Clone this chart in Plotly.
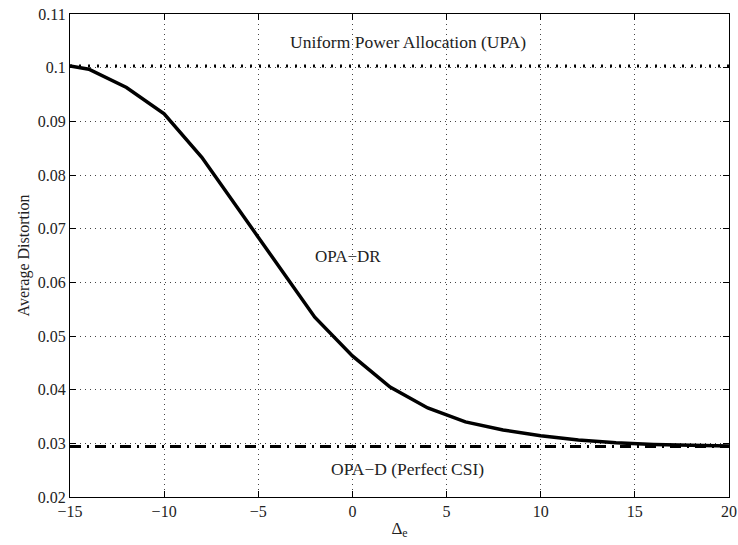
import plotly.graph_objs as go

# values
delta_e = [-15, -14, -12, -10, -8, -6, -4, -2, 0, 2, 4, 6, 8, 10, 12, 14, 16, 18, 20]
opa_dr = [0.1003, 0.0997, 0.0963, 0.0914, 0.0833, 0.0733, 0.0635, 0.0535, 0.0463,
          0.0405, 0.0366, 0.0340, 0.0325, 0.0314, 0.0306, 0.0301, 0.0298, 0.0296, 0.0295]

upa_x = [-15, 20]
upa_y = [0.1003, 0.1003]

opa_d_x = [-15, 20]
opa_d_y = [0.0294, 0.0294]

x_ticks = [-15, -10, -5, 0, 5, 10, 15, 20]
y_ticks = [0.02, 0.03, 0.04, 0.05, 0.06, 0.07, 0.08, 0.09, 0.1, 0.11]
y_tick_text = ["0.02", "0.03", "0.04", "0.05", "0.06", "0.07", "0.08", "0.09", "0.1", "0.11"]

FONT = "Liberation Serif"

fig = go.Figure()

fig.add_trace(go.Scatter(x=upa_x, y=upa_y, mode='lines', name='UPA',
                         line={"color": "black", "width": 3, "dash": "2px,7px"}))
fig.add_trace(go.Scatter(x=opa_d_x, y=opa_d_y, mode='lines', name='OPA-D',
                         line={"color": "black", "width": 3, "dash": "11px,6px,2px,6px"}))
fig.add_trace(go.Scatter(x=delta_e, y=opa_dr, mode='lines', name='OPA-DR',
                         line={"color": "black", "width": 3.5}))

# curve labels
fig.add_annotation(x=2.95, y=0.1048, text="Uniform Power Allocation (UPA)", showarrow=False,
                   font={"size": 17.5})
fig.add_annotation(x=-0.25, y=0.0648, text="OPA\u2212DR", showarrow=False,
                   font={"size": 17})
fig.add_annotation(x=2.9, y=0.0253, text="OPA\u2212D (Perfect CSI)", showarrow=False,
                   font={"size": 17.5})

axis_common = dict(
    showline=True, linecolor="black", linewidth=1.2, mirror="ticks",
    ticks="inside", ticklen=6, tickcolor="black",
    showgrid=True, gridcolor="#444", gridwidth=1, griddash="1px,4px",
    zeroline=False, ticklabeloverflow="allow", automargin=False,
    tickfont={"size": 16, "color": "#222", "family": FONT},
)

fig.update_layout(
    width=738, height=545,
    margin={"l": 70, "r": 9, "t": 14, "b": 48},
    paper_bgcolor="white", plot_bgcolor="white",
    showlegend=False,
    font={"family": FONT, "size": 16, "color": "#222"},
    xaxis=dict(axis_common, range=[-15, 20], tickvals=x_ticks,
               title={"text": "\u0394<sub>e</sub>", "standoff": 2,
                      "font": {"size": 17, "family": FONT}}),
    yaxis=dict(axis_common, range=[0.02, 0.11], tickvals=y_ticks, ticktext=y_tick_text,
               title={"text": "Average Distortion", "standoff": 4,
                      "font": {"size": 16, "family": FONT}}),
)

# drop the default body margin so the figure sits at the page's top-left corner
fig.write_html("out.html", config={"displayModeBar": False},
               post_script="document.body.style.margin='0';document.body.style.overflow='hidden';")
